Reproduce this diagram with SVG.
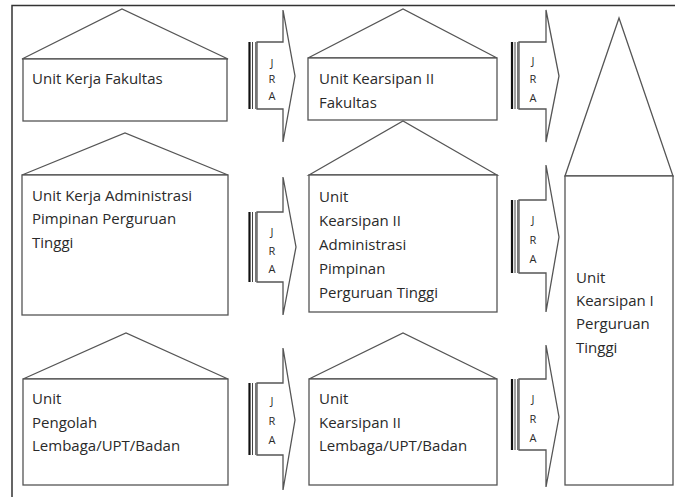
<svg xmlns="http://www.w3.org/2000/svg" width="675" height="497" viewBox="0 0 675 497">
<style>
.shape{fill:#fff;stroke:#555;stroke-width:1.3}
.lbl{font-family:"Open Sans","Noto Sans",sans-serif;font-size:15px;fill:#2a2a2a}
.jra{font-family:"Open Sans","Noto Sans",sans-serif;font-size:11px;fill:#2a2a2a;text-anchor:middle}
.bar1{stroke:#111;stroke-width:2.2}
.bar2{stroke:#444;stroke-width:1}
.bar3{stroke:#777;stroke-width:2}
</style>
<rect width="675" height="497" fill="#fff"/>
<path d="M12,497 V5.5 H675" fill="none" stroke="#333" stroke-width="1.5"/>

<g id="unit-kerja-fakultas">
<polygon class="shape" points="22,59 122,9 228,59"/>
<rect class="shape" x="23" y="59" width="204" height="62"/>
<text class="lbl" x="32" y="84">Unit Kerja Fakultas</text>
</g>
<g id="unit-kearsipan-fakultas">
<polygon class="shape" points="308,58 403,9 497,58"/>
<rect class="shape" x="308" y="58" width="189" height="62"/>
<text class="lbl" x="319" y="84">Unit Kearsipan II</text>
<text class="lbl" x="319" y="108">Fakultas</text>
</g>
<g id="unit-kerja-administrasi">
<polygon class="shape" points="22,175 125,133 228,175"/>
<rect class="shape" x="22" y="175" width="206" height="140"/>
<text class="lbl" x="32" y="201">Unit Kerja Administrasi</text>
<text class="lbl" x="32" y="224">Pimpinan Perguruan</text>
<text class="lbl" x="32" y="248">Tinggi</text>
</g>
<g id="unit-kearsipan-administrasi">
<polygon class="shape" points="309,175 403,121 497,175"/>
<rect class="shape" x="309" y="175" width="188" height="137"/>
<text class="lbl" x="319" y="202">Unit</text>
<text class="lbl" x="319" y="226">Kearsipan II</text>
<text class="lbl" x="319" y="250">Administrasi</text>
<text class="lbl" x="319" y="274">Pimpinan</text>
<text class="lbl" x="319" y="298">Perguruan Tinggi</text>
</g>
<g id="unit-pengolah">
<polygon class="shape" points="23,379 126,333 228,379"/>
<rect class="shape" x="23" y="379" width="205" height="106"/>
<text class="lbl" x="32" y="404">Unit</text>
<text class="lbl" x="32" y="428">Pengolah</text>
<text class="lbl" x="32" y="451">Lembaga/UPT/Badan</text>
</g>
<g id="unit-kearsipan-lembaga">
<polygon class="shape" points="309,379 403,333 497,379"/>
<rect class="shape" x="309" y="379" width="188" height="106"/>
<text class="lbl" x="319" y="404">Unit</text>
<text class="lbl" x="319" y="428">Kearsipan II</text>
<text class="lbl" x="319" y="451">Lembaga/UPT/Badan</text>
</g>
<g id="unit-kearsipan-pt">
<polygon class="shape" points="565,176 619,18 673,176"/>
<rect class="shape" x="565" y="176" width="108" height="309"/>
<text class="lbl" x="576" y="283">Unit</text>
<text class="lbl" x="576" y="306">Kearsipan I</text>
<text class="lbl" x="576" y="329">Perguruan</text>
<text class="lbl" x="576" y="353">Tinggi</text>
</g>

<g id="connectors">
<g id="jra-l1">
<path class="shape" d="M257,42 H283 V10 L295,76 L283,142 V109 H257 Z"/>
<line class="bar1" x1="249.5" y1="42" x2="249.5" y2="109"/><line class="bar2" x1="252.5" y1="42" x2="252.5" y2="109"/><line class="bar3" x1="256" y1="42" x2="256" y2="109"/>
<text class="jra" x="272" y="67">J</text><text class="jra" x="272" y="83">R</text><text class="jra" x="272" y="100">A</text>
</g>
<g id="jra-r1">
<path class="shape" d="M519,42 H546 V10 L559,76 L546,142 V109 H519 Z"/>
<line class="bar1" x1="512" y1="42" x2="512" y2="109"/><line class="bar2" x1="515" y1="42" x2="515" y2="109"/><line class="bar3" x1="518" y1="42" x2="518" y2="109"/>
<text class="jra" x="533" y="65">J</text><text class="jra" x="533" y="83">R</text><text class="jra" x="533" y="102">A</text>
</g>
<g id="jra-l2">
<path class="shape" d="M257,212 H283 V177 L296,247 L283,315 V282 H257 Z"/>
<line class="bar1" x1="249.5" y1="212" x2="249.5" y2="282"/><line class="bar2" x1="252.5" y1="212" x2="252.5" y2="282"/><line class="bar3" x1="256" y1="212" x2="256" y2="282"/>
<text class="jra" x="272" y="236">J</text><text class="jra" x="272" y="255">R</text><text class="jra" x="272" y="273">A</text>
</g>
<g id="jra-r2">
<path class="shape" d="M519,200 H546 V165 L559,237 L546,312 V273 H519 Z"/>
<line class="bar1" x1="512" y1="200" x2="512" y2="273"/><line class="bar2" x1="515" y1="200" x2="515" y2="273"/><line class="bar3" x1="518" y1="200" x2="518" y2="273"/>
<text class="jra" x="533" y="224">J</text><text class="jra" x="533" y="244">R</text><text class="jra" x="533" y="263">A</text>
</g>
<g id="jra-l3">
<path class="shape" d="M257,383 H283 V348 L295,420 L283,490 V455 H257 Z"/>
<line class="bar1" x1="249.5" y1="383" x2="249.5" y2="455"/><line class="bar2" x1="252.5" y1="383" x2="252.5" y2="455"/><line class="bar3" x1="256" y1="383" x2="256" y2="455"/>
<text class="jra" x="272" y="405">J</text><text class="jra" x="272" y="425">R</text><text class="jra" x="272" y="444">A</text>
</g>
<g id="jra-r3">
<path class="shape" d="M519,379 H546 V345 L559,417 L546,487 V450 H519 Z"/>
<line class="bar1" x1="512" y1="379" x2="512" y2="450"/><line class="bar2" x1="515" y1="379" x2="515" y2="450"/><line class="bar3" x1="518" y1="379" x2="518" y2="450"/>
<text class="jra" x="533" y="403">J</text><text class="jra" x="533" y="423">R</text><text class="jra" x="533" y="442">A</text>
</g>
</g>
</svg>
